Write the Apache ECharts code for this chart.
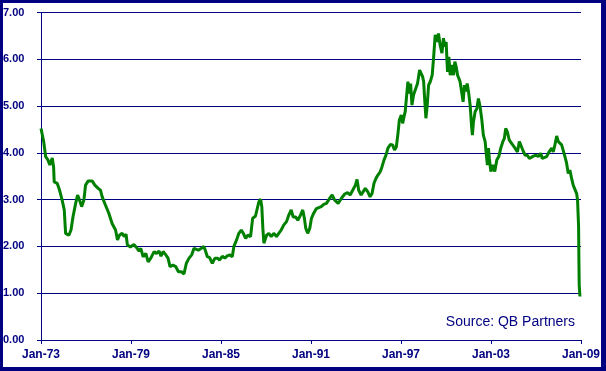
<!DOCTYPE html>
<html>
<head>
<meta charset="utf-8">
<script src="https://cdn.jsdelivr.net/npm/echarts@6/dist/echarts.min.js"></script>
<style>
html,body{margin:0;padding:0;background:#fff;}
#c{width:606px;height:371px;}
</style>
</head>
<body>
<div id="c"></div>
<script>
var years = [
1973.00,1973.18,1973.31,1973.46,1973.59,1973.75,1973.84,1973.88,1974.08,1974.24,1974.41,1974.55,1974.64,1974.86,1975.00,1975.13,1975.31,1975.44,1975.57,1975.71,1975.86,1975.97,1976.15,1976.41,1976.59,1976.81,1976.97,1977.08,1977.30,1977.52,1977.74,1977.97,1978.10,1978.23,1978.41,1978.54,1978.67,1978.76,1978.96,1979.19,1979.41,1979.54,1979.65,1979.81,1979.99,1980.14,1980.32,1980.54,1980.70,1980.87,1981.00,1981.14,1981.32,1981.47,1981.60,1981.80,1981.98,1982.16,1982.36,1982.53,1982.69,1982.87,1983.05,1983.20,1983.31,1983.49,1983.69,1983.86,1983.98,1984.09,1984.24,1984.42,1984.60,1984.76,1984.91,1985.09,1985.26,1985.42,1985.59,1985.75,1985.86,1986.04,1986.19,1986.35,1986.49,1986.64,1986.79,1986.97,1987.11,1987.30,1987.42,1987.52,1987.64,1987.72,1987.79,1987.86,1988.04,1988.19,1988.35,1988.52,1988.70,1988.85,1989.01,1989.19,1989.37,1989.52,1989.68,1989.81,1989.97,1990.12,1990.30,1990.45,1990.56,1990.65,1990.78,1990.92,1991.03,1991.18,1991.36,1991.52,1991.68,1991.85,1992.03,1992.25,1992.41,1992.58,1992.81,1993.03,1993.25,1993.43,1993.61,1993.78,1993.96,1994.07,1994.18,1994.34,1994.47,1994.62,1994.78,1994.94,1995.07,1995.20,1995.34,1995.47,1995.62,1995.73,1995.87,1996.00,1996.13,1996.29,1996.44,1996.57,1996.69,1996.80,1996.89,1997.02,1997.11,1997.20,1997.28,1997.37,1997.46,1997.55,1997.64,1997.73,1997.84,1997.95,1998.10,1998.24,1998.35,1998.44,1998.51,1998.59,1998.66,1998.75,1998.84,1998.95,1999.08,1999.17,1999.28,1999.39,1999.50,1999.61,1999.73,1999.83,1999.93,2000.01,2000.10,2000.19,2000.28,2000.39,2000.50,2000.59,2000.68,2000.77,2000.86,2000.94,2001.06,2001.14,2001.23,2001.32,2001.41,2001.50,2001.61,2001.70,2001.76,2001.83,2001.94,2002.06,2002.16,2002.27,2002.39,2002.49,2002.61,2002.67,2002.76,2002.83,2002.89,2002.99,2003.12,2003.25,2003.39,2003.52,2003.65,2003.79,2003.89,2003.98,2004.09,2004.22,2004.38,2004.45,2004.60,2004.76,2004.89,2005.00,2005.12,2005.27,2005.42,2005.56,2005.69,2005.82,2006.00,2006.15,2006.31,2006.42,2006.55,2006.71,2006.87,2007.05,2007.15,2007.26,2007.38,2007.49,2007.60,2007.71,2007.82,2007.93,2008.04,2008.15,2008.26,2008.37,2008.48,2008.61,2008.71,2008.77,2008.84,2008.86,2008.88,2008.93
];
var values = [
4.52,4.24,3.92,3.85,3.74,3.89,3.70,3.38,3.35,3.20,2.99,2.78,2.28,2.24,2.35,2.63,2.92,3.10,2.99,2.85,2.99,3.31,3.40,3.40,3.31,3.24,3.20,3.06,2.88,2.71,2.49,2.35,2.14,2.24,2.28,2.21,2.26,2.03,1.99,2.04,1.96,1.90,1.96,1.78,1.85,1.67,1.75,1.89,1.85,1.90,1.79,1.89,1.82,1.75,1.57,1.60,1.57,1.46,1.46,1.41,1.64,1.75,1.82,1.96,2.00,1.92,1.96,2.00,1.89,1.78,1.76,1.64,1.75,1.75,1.71,1.79,1.75,1.80,1.82,1.78,2.00,2.14,2.28,2.35,2.28,2.17,2.24,2.21,2.60,2.65,2.67,2.95,3.01,2.85,2.39,2.07,2.24,2.28,2.21,2.28,2.21,2.28,2.35,2.46,2.53,2.67,2.78,2.63,2.63,2.56,2.67,2.78,2.60,2.39,2.28,2.39,2.60,2.71,2.81,2.83,2.85,2.90,2.92,3.03,3.10,2.99,2.92,3.03,3.12,3.15,3.10,3.20,3.31,3.43,3.20,3.10,3.06,3.24,3.17,3.06,3.13,3.35,3.46,3.53,3.60,3.70,3.85,3.95,4.10,4.18,4.17,4.06,4.13,4.42,4.70,4.81,4.63,4.77,4.88,5.20,5.52,5.27,5.48,5.02,5.24,5.20,5.48,5.77,5.81,5.63,5.52,5.09,4.74,5.02,5.45,5.52,5.66,6.02,6.52,6.37,6.55,6.30,6.13,6.45,6.27,6.37,5.73,6.05,5.66,5.88,5.66,5.95,5.84,5.66,5.59,5.52,5.56,5.09,5.45,5.31,5.48,5.31,5.02,4.59,4.38,4.66,4.88,4.95,5.16,4.99,4.70,4.38,4.24,4.02,3.74,4.10,3.88,3.60,3.74,3.60,3.85,3.92,4.10,4.24,4.31,4.52,4.45,4.27,4.20,4.17,4.10,4.02,4.24,4.20,4.06,3.95,3.95,3.88,3.85,3.93,3.95,3.92,3.99,3.88,3.85,3.92,4.02,4.10,4.02,4.17,4.36,4.24,4.27,4.17,4.20,3.92,3.78,3.56,3.63,3.46,3.31,3.31,3.13,2.99,2.42,1.71,1.18,0.93
];
var sourceText = "Source: QB Partners";

var navy = '#000080';
var fontFam = "'Liberation Sans', Arial, sans-serif";
var data = years.map(function (y, i) { return [y, values[i]]; });

var chart = echarts.init(document.getElementById('c'), null, {renderer: 'canvas'});
chart.setOption({
  animation: false,
  backgroundColor: '#ffffff',
  grid: {left: 40, right: 25, top: 12.5, bottom: 31, containLabel: false},
  xAxis: {
    type: 'value', min: 1973, max: 2009, interval: 6,
    axisLine: {show: true, lineStyle: {color: navy, width: 1}},
    axisTick: {show: true, length: 4, lineStyle: {color: navy}},
    splitLine: {show: false},
    axisLabel: {
      color: navy, fontWeight: 'bold', fontSize: 12, fontFamily: fontFam, margin: 9,
      formatter: function (v) { return 'Jan-' + String(v).slice(2); }
    }
  },
  yAxis: {
    type: 'value', min: 0, max: 7, interval: 1,
    axisLine: {show: true, lineStyle: {color: navy, width: 1}},
    axisTick: {show: true, length: 4, lineStyle: {color: navy}},
    splitLine: {show: true, lineStyle: {color: navy, width: 1}},
    axisLabel: {
      color: navy, fontWeight: 'bold', fontSize: 11, fontFamily: fontFam,
      align: 'left', margin: 38,
      formatter: function (v) { return v.toFixed(2); }
    }
  },
  series: [{
    type: 'line', data: data, showSymbol: false, symbol: 'none',
    lineStyle: {color: '#008000', width: 3}
  }],
  graphic: [
    {type: 'text', right: 31, top: 315, style: {text: sourceText, fill: navy, font: "14px " + fontFam}},
    {type: 'rect', shape: {x: 0, y: 0, width: 606, height: 3}, style: {fill: navy}},
    {type: 'rect', shape: {x: 0, y: 0, width: 3, height: 371}, style: {fill: navy}},
    {type: 'rect', shape: {x: 601, y: 0, width: 5, height: 371}, style: {fill: navy}},
    {type: 'rect', shape: {x: 0, y: 367, width: 606, height: 4}, style: {fill: navy}}
  ]
});
</script>
</body>
</html>
